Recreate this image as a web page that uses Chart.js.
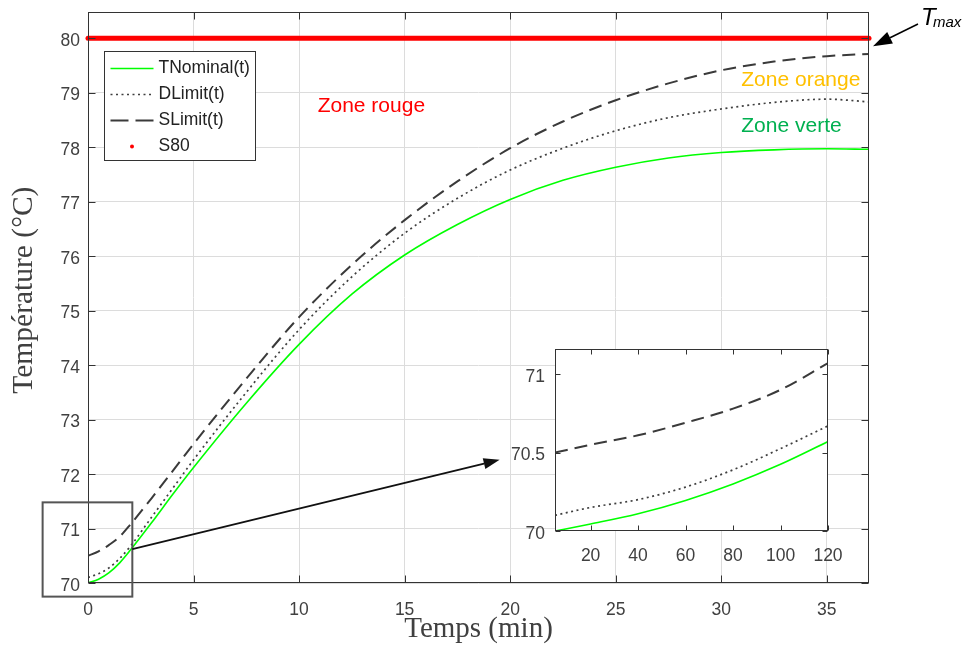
<!DOCTYPE html>
<html><head><meta charset="utf-8">
<script src="https://cdn.jsdelivr.net/npm/chart.js@4"></script>
<style>
html,body{margin:0;padding:0;background:#fff;}
#wrap{position:relative;width:969px;height:653px;overflow:hidden;}
#wrap canvas{position:absolute;left:0;top:0;}
</style></head><body>
<div id="wrap"><canvas id="main" width="969" height="653"></canvas><canvas id="inset" width="969" height="653"></canvas></div>
<script>
// ---- data (main plot, time in minutes) ----
const timeMin   = [0, 0.5, 1, 1.5, 2, 3, 4, 5, 7.5, 10, 12.5, 15, 17.5, 20, 22.5, 25, 27.5, 30, 32.5, 35, 37];
const tNominal  = [70.0, 70.07, 70.19, 70.37, 70.6, 71.1, 71.62, 72.12, 73.3, 74.38, 75.3, 76.02, 76.58, 77.04, 77.39, 77.63, 77.8, 77.9, 77.95, 77.97, 77.96];
const dLimit    = [70.1, 70.17, 70.28, 70.45, 70.67, 71.2, 71.73, 72.26, 73.5, 74.65, 75.62, 76.42, 77.06, 77.58, 77.98, 78.3, 78.54, 78.7, 78.82, 78.88, 78.83];
const sLimit    = [70.5, 70.58, 70.7, 70.85, 71.07, 71.55, 72.05, 72.55, 73.75, 74.88, 75.84, 76.66, 77.37, 77.98, 78.47, 78.86, 79.17, 79.41, 79.57, 79.67, 79.71];
const s80Time   = [0, 37];
const s80       = [80, 80];
const xTicks    = [0, 5, 10, 15, 20, 25, 30, 35];
const yTicks    = [70, 71, 72, 73, 74, 75, 76, 77, 78, 79, 80];
const seriesLabels = ['TNominal(t)', 'DLimit(t)', 'SLimit(t)', 'S80'];

// ---- data (inset, time in seconds) ----
const insetTimeSec = [5, 20, 40, 60, 80, 100, 120];
const insetNominal = [70.0, 70.045, 70.11, 70.195, 70.3, 70.425, 70.57];
const insetDLimit  = [70.1, 70.15, 70.2, 70.28, 70.39, 70.525, 70.67];
const insetSLimit  = [70.5, 70.55, 70.61, 70.69, 70.78, 70.9, 71.07];
const insetXTicks  = [20, 40, 60, 80, 100, 120];
const insetYTicks  = [70, 70.5, 71];

// ---- annotations (data coordinates of the main plot) ----
const zoomBox   = {tMin: -2.15, tMax: 2.1, yMin: 69.75, yMax: 71.48};
const zoomArrow = {t0: 2.1, y0: 70.62, t1: 19.5, y1: 72.26};
const zoneLabels = [
  {text: 'Zone rouge',  t: 10.88, y: 78.65, color: '#ff0000'},
  {text: 'Zone orange', t: 30.95, y: 79.12, color: '#ffc000'},
  {text: 'Zone verte',  t: 30.95, y: 78.27, color: '#00b050'}
];

Chart.defaults.font.family = "'Liberation Sans', Arial, sans-serif";
const pts = (xs, ys) => xs.map((x, i) => ({x: x, y: ys[i]}));

const styles = [
  {borderColor: '#00ff00', borderWidth: 1.6, borderDash: []},
  {borderColor: '#3f3f3f', borderWidth: 1.7, borderDash: [2, 3.5]},
  {borderColor: '#3a3a3a', borderWidth: 2, borderDash: [13, 7]},
  {borderColor: '#ff0000', borderWidth: 5, borderDash: []}
];

function arrow(ctx, x0, y0, x1, y1, headLen, headW, width, color) {
  const a = Math.atan2(y1 - y0, x1 - x0);
  const bx = x1 - headLen * Math.cos(a), by = y1 - headLen * Math.sin(a);
  ctx.save();
  ctx.strokeStyle = color; ctx.fillStyle = color; ctx.lineWidth = width;
  ctx.beginPath(); ctx.moveTo(x0, y0); ctx.lineTo(bx, by); ctx.stroke();
  ctx.beginPath(); ctx.moveTo(x1, y1);
  ctx.lineTo(bx + headW / 2 * Math.sin(a), by - headW / 2 * Math.cos(a));
  ctx.lineTo(bx - headW / 2 * Math.sin(a), by + headW / 2 * Math.cos(a));
  ctx.closePath(); ctx.fill();
  ctx.restore();
}

function frameAndTicks(chart, xt, yt, len) {
  const ctx = chart.ctx, ca = chart.chartArea;
  const xs = chart.scales.x, ys = chart.scales.y;
  const L = Math.round(ca.left) + 0.5, R = Math.round(ca.right) - 0.5;
  const T = Math.round(ca.top) + 0.5, B = Math.round(ca.bottom) - 0.5;
  ctx.save();
  ctx.strokeStyle = '#333'; ctx.lineWidth = 1;
  ctx.strokeRect(L, T, R - L, B - T);
  ctx.beginPath();
  xt.forEach(v => {
    const px = Math.round(xs.getPixelForValue(v)) + 0.5;
    ctx.moveTo(px, B); ctx.lineTo(px, B - len);
    ctx.moveTo(px, T); ctx.lineTo(px, T + len);
  });
  yt.forEach(v => {
    const py = Math.round(ys.getPixelForValue(v)) + 0.5;
    ctx.moveTo(L, py); ctx.lineTo(L + len, py);
    ctx.moveTo(R, py); ctx.lineTo(R - len, py);
  });
  ctx.stroke();
  ctx.restore();
}

const mainDecor = {
  id: 'mainDecor',
  afterDatasetsDraw(chart) {
    const ctx = chart.ctx, ca = chart.chartArea;
    const xs = chart.scales.x, ys = chart.scales.y;
    frameAndTicks(chart, xTicks, yTicks, 7);

    // legend
    ctx.save();
    const lx = ca.left + 16.5, ly = ca.top + 39.5, lw = 151, lh = 109;
    ctx.fillStyle = '#fff'; ctx.fillRect(lx, ly, lw, lh);
    ctx.strokeStyle = '#333'; ctx.lineWidth = 1; ctx.strokeRect(lx, ly, lw, lh);
    ctx.font = "17.5px 'Liberation Sans', Arial, sans-serif";
    ctx.textBaseline = 'middle'; ctx.textAlign = 'left'; ctx.fillStyle = '#222';
    chart.data.datasets.forEach((ds, i) => {
      const ry = ly + 17 + i * 26;
      if (i < 3) {
        ctx.save();
        ctx.strokeStyle = ds.borderColor; ctx.lineWidth = ds.borderWidth;
        ctx.setLineDash(i === 2 ? [18, 7] : (ds.borderDash || []));
        ctx.beginPath(); ctx.moveTo(lx + 6, ry); ctx.lineTo(lx + 49, ry); ctx.stroke();
        ctx.restore();
      } else {
        ctx.save(); ctx.fillStyle = ds.borderColor;
        ctx.beginPath(); ctx.arc(lx + 27.5, ry, 2, 0, Math.PI * 2); ctx.fill();
        ctx.restore();
      }
      ctx.fillText(ds.label, lx + 54, ry);
    });
    ctx.restore();

    // zone labels
    ctx.save();
    ctx.font = "21px 'Liberation Sans', Arial, sans-serif";
    ctx.textBaseline = 'alphabetic'; ctx.textAlign = 'left';
    zoneLabels.forEach(z => {
      ctx.fillStyle = z.color;
      ctx.fillText(z.text, xs.getPixelForValue(z.t), ys.getPixelForValue(z.y));
    });
    ctx.restore();

    // zoom rectangle
    ctx.save();
    ctx.strokeStyle = '#555'; ctx.lineWidth = 2;
    const bx0 = xs.getPixelForValue(zoomBox.tMin), bx1 = xs.getPixelForValue(zoomBox.tMax);
    const by0 = ys.getPixelForValue(zoomBox.yMax), by1 = ys.getPixelForValue(zoomBox.yMin);
    ctx.strokeRect(bx0, by0, bx1 - bx0, by1 - by0);
    ctx.restore();

    // zoom arrow
    arrow(ctx, xs.getPixelForValue(zoomArrow.t0), ys.getPixelForValue(zoomArrow.y0),
          xs.getPixelForValue(zoomArrow.t1), ys.getPixelForValue(zoomArrow.y1), 16, 11, 1.8, '#111');

    // Tmax annotation
    const tipX = ca.right + 4, tipY = ys.getPixelForValue(80) + 8;
    arrow(ctx, ca.right + 49, ca.top + 12, tipX, tipY, 19, 13, 1.5, '#000');
    ctx.save();
    ctx.fillStyle = '#000'; ctx.textBaseline = 'alphabetic'; ctx.textAlign = 'left';
    ctx.font = "italic 24px 'Liberation Sans', Arial, sans-serif";
    ctx.fillText('T', ca.right + 52, ca.top + 13);
    ctx.font = "italic 15px 'Liberation Sans', Arial, sans-serif";
    ctx.fillText('max', ca.right + 64, ca.top + 15);
    ctx.restore();
  }
};

const tickFont = {size: 17.5, family: "'Liberation Sans', Arial, sans-serif"};
const noScalePad = s => { s.paddingTop = 0; s.paddingBottom = 0; s.paddingLeft = 0; s.paddingRight = 0; };

new Chart(document.getElementById('main'), {
  type: 'line',
  data: {
    datasets: [
      Object.assign({label: seriesLabels[0], data: pts(timeMin, tNominal)}, styles[0]),
      Object.assign({label: seriesLabels[1], data: pts(timeMin, dLimit)}, styles[1]),
      Object.assign({label: seriesLabels[2], data: pts(timeMin, sLimit)}, styles[2]),
      Object.assign({label: seriesLabels[3], data: pts(s80Time, s80), borderCapStyle: 'round', clip: false}, styles[3])
    ].map(d => Object.assign(d, {pointRadius: 0, fill: false, cubicInterpolationMode: 'monotone'}))
  },
  options: {
    responsive: false, animation: false, devicePixelRatio: 1,
    layout: {padding: {left: 0, top: 12, right: 100, bottom: 0}},
    plugins: {legend: {display: false}, tooltip: {enabled: false}},
    scales: {
      x: {
        type: 'linear', min: 0, max: 37,
        afterBuildTicks: s => { s.ticks = xTicks.map(v => ({value: v})); },
        afterFit: s => { s.height = 70; noScalePad(s); },
        grid: {color: '#dcdcdc', drawTicks: false}, border: {display: false},
        ticks: {padding: 17, color: '#404040', font: tickFont},
        title: {display: true, text: 'Temps (min)', color: '#404040',
                font: {family: "'Liberation Serif', 'Times New Roman', serif", size: 29},
                padding: {top: 0, bottom: 6}}
      },
      y: {
        type: 'linear', min: 70, max: 80.48,
        afterBuildTicks: s => { s.ticks = yTicks.map(v => ({value: v})); },
        afterFit: s => { s.width = 88; noScalePad(s); },
        grid: {color: '#dcdcdc', drawTicks: false}, border: {display: false},
        ticks: {padding: 8, color: '#404040', font: tickFont, labelOffset: 3},
        title: {display: true, text: '  Température (°C)', color: '#404040',
                font: {family: "'Liberation Serif', 'Times New Roman', serif", size: 29.5},
                padding: {top: 7, bottom: 0}}
      }
    }
  },
  plugins: [mainDecor]
});

const insetDecor = {
  id: 'insetDecor',
  beforeDatasetsDraw(chart) {
    const ctx = chart.ctx, ca = chart.chartArea;
    ctx.save(); ctx.fillStyle = '#fff';
    ctx.fillRect(ca.left, ca.top, ca.right - ca.left, ca.bottom - ca.top);
    ctx.restore();
  },
  afterDatasetsDraw(chart) {
    frameAndTicks(chart, insetXTicks, insetYTicks, 5);
  }
};

new Chart(document.getElementById('inset'), {
  type: 'line',
  data: {
    datasets: [
      Object.assign({label: seriesLabels[0], data: pts(insetTimeSec, insetNominal)}, styles[0]),
      Object.assign({label: seriesLabels[1], data: pts(insetTimeSec, insetDLimit)}, styles[1]),
      Object.assign({label: seriesLabels[2], data: pts(insetTimeSec, insetSLimit)}, styles[2])
    ].map(d => Object.assign(d, {pointRadius: 0, fill: false, cubicInterpolationMode: 'monotone'}))
  },
  options: {
    responsive: false, animation: false, devicePixelRatio: 1,
    layout: {padding: {left: 505, top: 349, right: 141, bottom: 82}},
    plugins: {legend: {display: false}, tooltip: {enabled: false}},
    scales: {
      x: {
        type: 'linear', min: 5, max: 120,
        afterBuildTicks: s => { s.ticks = insetXTicks.map(v => ({value: v})); },
        afterFit: s => { s.height = 40; noScalePad(s); },
        grid: {display: false, drawTicks: false}, border: {display: false},
        ticks: {padding: 15, color: '#404040', font: tickFont}
      },
      y: {
        type: 'linear', min: 70, max: 71.16,
        afterBuildTicks: s => { s.ticks = insetYTicks.map(v => ({value: v})); },
        afterFit: s => { s.width = 50; noScalePad(s); },
        grid: {display: false, drawTicks: false}, border: {display: false},
        ticks: {padding: 10, color: '#404040', font: tickFont, labelOffset: 3, callback: v => String(v)}
      }
    }
  },
  plugins: [insetDecor]
});
</script>
</body></html>
